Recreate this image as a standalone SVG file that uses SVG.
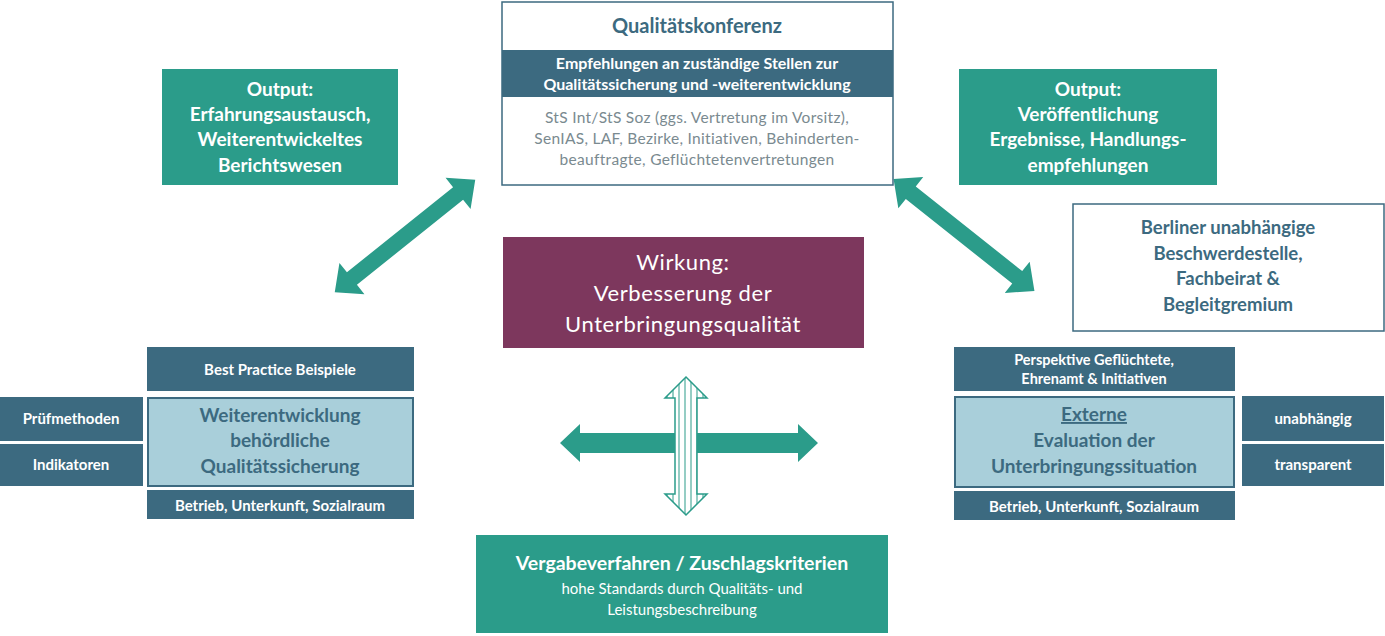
<svg xmlns="http://www.w3.org/2000/svg" width="1385" height="636" viewBox="0 0 1385 636">
<style>
text{font-family:Lato,"Liberation Sans",sans-serif;text-anchor:middle}
.teal{fill:#2b9c8a}
.dark{fill:#3c6a80}
.light{fill:#a9cfda;stroke:#3c6a80;stroke-width:2}
.wb{fill:#fff;stroke:#3c6a80;stroke-width:1.5}
.tw{fill:#fff;font-weight:bold}
.tb{fill:#3c6a80;font-weight:bold}
.tg{fill:#7a8a90}
.arrow{fill:#2b9c8a}
</style>
<defs>
<pattern id="stripes" width="6" height="10" patternUnits="userSpaceOnUse">
<rect width="6" height="10" fill="#fff"/><line x1="1" y1="0" x2="1" y2="10" stroke="#2b9c8a" stroke-width="1"/>
</pattern>
</defs>
<rect width="1385" height="636" fill="#fff"/>
<g id="connectors">
<polygon class="arrow" transform="translate(405,236) rotate(-38.7)" points="-90,0 -68,-20 -68,-8 68,-8 68,-20 90,0 68,20 68,8 -68,8 -68,20"/>
<polygon class="arrow" transform="translate(964,235) rotate(38.5)" points="-90,0 -68,-20 -68,-8 68,-8 68,-20 90,0 68,20 68,8 -68,8 -68,20"/>
<polygon class="arrow" points="560,443 580,424 580,433 798,433 798,424 818,443 798,462 798,453 580,453 580,462"/>
<polygon fill="url(#stripes)" stroke="#2b9c8a" stroke-width="1.5" points="686,377 707,398 697,398 697,494 707,494 686,515 665,494 675,494 675,398 665,398"/>
</g>
<g id="output-left"><rect class="teal" x="162" y="69" width="236" height="116"/>
<text class="tw" font-size="19"><tspan x="280" y="96">Output:</tspan><tspan x="280" y="121">Erfahrungsaustausch,</tspan><tspan x="280" y="146">Weiterentwickeltes</tspan><tspan x="280" y="172">Berichtswesen</tspan></text></g>
<g id="qualitaetskonferenz"><rect class="wb" x="502" y="2" width="391" height="183"/>
<rect class="dark" x="502" y="50" width="391" height="47"/>
<text class="tb" font-size="20" x="697" y="33">Qualitätskonferenz</text>
<text class="tw" font-size="16"><tspan x="697" y="69">Empfehlungen an zuständige Stellen zur</tspan><tspan x="697" y="90">Qualitätssicherung und -weiterentwicklung</tspan></text>
<text class="tg" font-size="15.5" letter-spacing="0.3"><tspan x="697" y="123">StS Int/StS Soz (ggs. Vertretung im Vorsitz),</tspan><tspan x="697" y="144">SenIAS, LAF, Bezirke, Initiativen, Behinderten-</tspan><tspan x="697" y="165">beauftragte, Geflüchtetenvertretungen</tspan></text></g>
<g id="output-right"><rect class="teal" x="959" y="69" width="258" height="116"/>
<text class="tw" font-size="19"><tspan x="1088" y="96">Output:</tspan><tspan x="1088" y="121">Veröffentlichung</tspan><tspan x="1088" y="146">Ergebnisse, Handlungs-</tspan><tspan x="1088" y="172">empfehlungen</tspan></text></g>
<g id="berliner"><rect class="wb" x="1073" y="204" width="311" height="127"/>
<text class="tb" font-size="18.5"><tspan x="1228" y="234">Berliner unabhängige</tspan><tspan x="1228" y="260">Beschwerdestelle,</tspan><tspan x="1228" y="285">Fachbeirat &amp;</tspan><tspan x="1228" y="311">Begleitgremium</tspan></text></g>
<g id="wirkung"><rect fill="#7d375d" x="503" y="237" width="361" height="111"/>
<text fill="#fff" font-size="22" letter-spacing="0.6"><tspan x="683" y="270">Wirkung:</tspan><tspan x="683" y="301">Verbesserung der</tspan><tspan x="683" y="332">Unterbringungsqualität</tspan></text></g>
<g id="best-practice"><rect class="dark" x="147" y="347" width="267" height="44"/><text class="tw" font-size="15" x="280" y="375">Best Practice Beispiele</text></g>
<g id="pruefmethoden"><rect class="dark" x="0" y="397" width="143" height="44"/><text class="tw" font-size="15" x="71" y="424">Prüfmethoden</text></g>
<g id="indikatoren"><rect class="dark" x="0" y="444" width="143" height="42"/><text class="tw" font-size="15" x="71" y="470">Indikatoren</text></g>
<g id="weiterentwicklung"><rect class="light" x="148" y="398" width="265" height="88"/>
<text class="tb" font-size="19"><tspan x="280" y="422">Weiterentwicklung</tspan><tspan x="280" y="447">behördliche</tspan><tspan x="280" y="473">Qualitätssicherung</tspan></text></g>
<g id="betrieb-left"><rect class="dark" x="147" y="490" width="267" height="29"/><text class="tw" font-size="15" x="280" y="511">Betrieb, Unterkunft, Sozialraum</text></g>
<g id="perspektive"><rect class="dark" x="954" y="347" width="281" height="44"/><text class="tw" font-size="14.5"><tspan x="1094" y="365">Perspektive Geflüchtete,</tspan><tspan x="1094" y="384">Ehrenamt &amp; Initiativen</tspan></text></g>
<g id="externe"><rect class="light" x="955" y="397" width="279" height="90"/>
<text class="tb" font-size="19"><tspan x="1094" y="421" text-decoration="underline">Externe</tspan><tspan x="1094" y="447">Evaluation der</tspan><tspan x="1094" y="473">Unterbringungssituation</tspan></text></g>
<g id="unabhaengig"><rect class="dark" x="1242" y="396" width="142" height="45"/><text class="tw" font-size="15" x="1313" y="424">unabhängig</text></g>
<g id="transparent"><rect class="dark" x="1242" y="444" width="142" height="42"/><text class="tw" font-size="15" x="1313" y="470">transparent</text></g>
<g id="betrieb-right"><rect class="dark" x="954" y="491" width="281" height="29"/><text class="tw" font-size="15" x="1094" y="512">Betrieb, Unterkunft, Sozialraum</text></g>
<g id="vergabe"><rect class="teal" x="476" y="535" width="412" height="98"/>
<text class="tw" font-size="19.5" x="682" y="570">Vergabeverfahren / Zuschlagskriterien</text>
<text fill="#fff" font-size="15"><tspan x="682" y="594">hohe Standards durch Qualitäts- und</tspan><tspan x="682" y="615">Leistungsbeschreibung</tspan></text></g>
</svg>
